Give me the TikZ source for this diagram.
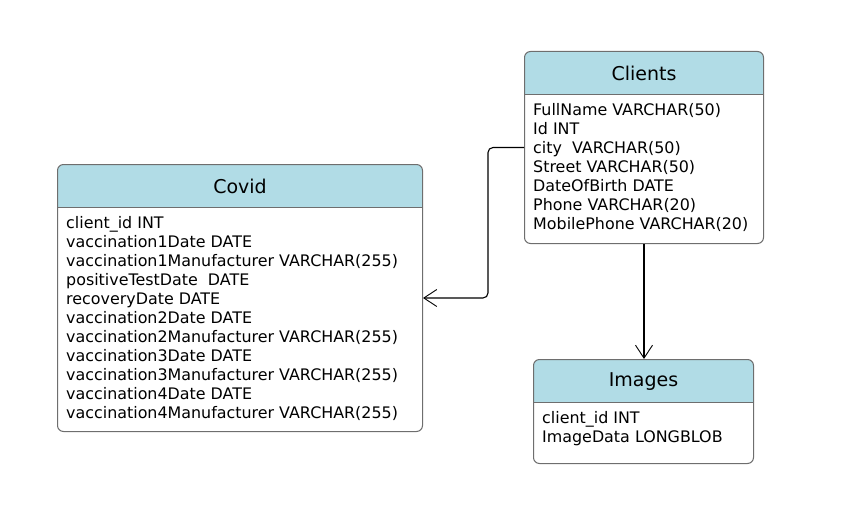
\documentclass[tikz,border=0pt]{standalone}
\usepackage{fontspec}
\setmainfont{DejaVu Sans}
\usetikzlibrary{
    matrix,
    positioning,
    arrows.meta
}
\definecolor{hdrblue}{RGB}{177,220,230}
\definecolor{framegray}{RGB}{110,110,110}
\def\hdrh{43pt}
\def\inset{9pt}
\def\toprow{50pt}
\tikzset{
    entity/.style={
        draw=framegray,
        line width=1pt,
        fill=white,
        rounded corners=6pt,
        anchor=north west,
        inner sep=0pt,
        path picture={
            \fill[hdrblue, sharp corners] (path picture bounding box.north west)
                rectangle ([yshift=-\hdrh]path picture bounding box.north east);
            \draw[framegray, line width=1pt, sharp corners]
                ([yshift=-\hdrh]path picture bounding box.north west) --
                ([yshift=-\hdrh]path picture bounding box.north east);
        }
    },
    entity title/.style={
        font=\fontsize{19}{23}\selectfont,
        inner sep=0pt
    },
    entity fields/.style={
        matrix of nodes,
        anchor=north west,
        inner sep=0pt,
        row sep=0pt,
        nodes={
            anchor=base west,
            inner sep=0pt,
            text height=14pt,
            text depth=5pt,
            font=\fontsize{15.9}{19}\selectfont
        }
    },
    link/.style={
        draw=black,
        line width=1.1pt,
        -{Straight Barb[length=13pt, width=17pt, line width=0.9pt]}
    },
}

\begin{document}
\begin{tikzpicture}[x=1pt, y=-1pt]
    \useasboundingbox (0,0) rectangle (841,527);

    % tables
    \node[entity, minimum width=239pt, minimum height=192pt] (clients) at (524,51) {};
    \node[entity title] (clients-title) at ([yshift=-22pt]clients.north) {Clients};
    \matrix[entity fields] (clients-fields) at ([xshift=\inset, yshift=-\toprow]clients.north west) {
        FullName VARCHAR(50) \\
        Id INT \\
        city\ \ VARCHAR(50) \\
        Street VARCHAR(50) \\
        DateOfBirth DATE \\
        Phone VARCHAR(20) \\
        MobilePhone VARCHAR(20) \\
    };

    \node[entity, minimum width=365pt, minimum height=267pt] (covid) at (57,164) {};
    \node[entity title] (covid-title) at ([yshift=-22pt]covid.north) {Covid};
    \matrix[entity fields] (covid-fields) at ([xshift=\inset, yshift=-\toprow]covid.north west) {
        client\_id INT \\
        vaccination1Date DATE \\
        vaccination1Manufacturer VARCHAR(255) \\
        positiveTestDate\ \ DATE \\
        recoveryDate DATE \\
        vaccination2Date DATE \\
        vaccination2Manufacturer VARCHAR(255) \\
        vaccination3Date DATE \\
        vaccination3Manufacturer VARCHAR(255) \\
        vaccination4Date DATE \\
        vaccination4Manufacturer VARCHAR(255) \\
    };

    \node[entity, minimum width=220pt, minimum height=104pt] (images) at (533,359) {};
    \node[entity title] (images-title) at ([yshift=-23pt]images.north) {Images};
    \matrix[entity fields] (images-fields) at ([xshift=\inset, yshift=-\toprow]images.north west) {
        client\_id INT \\
        ImageData LONGBLOB \\
    };

    % relations
    \draw[link, rounded corners=5pt] (clients.west) -- ++(-36,0) |- (covid.east);
    \draw[link] (clients.south) -- (clients.south |- images.north);

\end{tikzpicture}
\end{document}
